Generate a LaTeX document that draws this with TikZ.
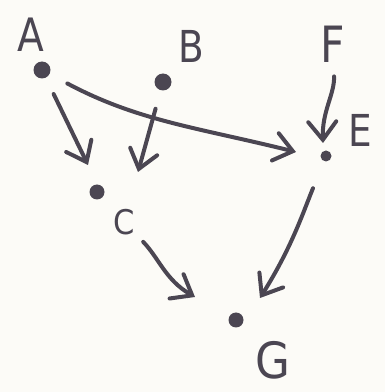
\documentclass[tikz,border=0pt]{standalone}
\usepackage{fontspec}
\setmainfont{DejaVu Sans}
\usetikzlibrary{arrows.meta}
\definecolor{ink}{HTML}{4B4652}
\definecolor{paper}{HTML}{FCFBF7}
\tikzset{
  dot/.style={circle, fill=ink, inner sep=0pt, minimum size=#1},
  lbl/.style={text=ink, inner sep=0pt, font=\fontsize{#1}{#1}\selectfont},
  edge/.style={draw=ink, line width=4pt, line cap=round,
    -{Straight Barb[length=18pt,width=28pt,line cap=round]}}
}
\begin{document}
\begin{tikzpicture}[x=1pt,y=1pt]
\fill[paper] (0,0) rectangle (385,392);
\useasboundingbox (0,0) rectangle (385,392);
% dots
\node[dot=17pt] (A) at (42,322) {};
\node[dot=17pt] (B) at (163,310) {};
\node[dot=11pt] (E) at (326,236) {};
\node[dot=15pt] (C) at (97,200) {};
\node[dot=15pt] (G) at (236,72) {};
% labels
\node[lbl=46, xscale=0.85] (Alab) at (31,357) {A};
\node[lbl=44, xscale=0.85] (Blab) at (191,346) {B};
\node[lbl=50, xscale=0.85] (F) at (333,348) {F};
\node[lbl=44, xscale=0.85] (Elab) at (360,262) {E};
\node[lbl=34, xscale=0.9] (Clab) at (124,170) {C};
\node[lbl=50, xscale=0.9] (Glab) at (273,32) {G};
% arrow tips
\coordinate (tAC) at (88,227);
\coordinate (tBC) at (138,220);
\coordinate (tAE) at (296,240);
\coordinate (tFE) at (323,249);
\coordinate (tCG) at (195,95);
\coordinate (tEG) at (260,94);
% connectors
\draw[edge, shorten <=18pt] (A) -- (tAC);
\draw[edge, shorten <=19pt] (B) -- (tBC);
\draw[edge, shorten <=20pt] (A) to[out=-28,in=166] (tAE);
\draw[edge, shorten <=14pt] (F) to[out=-88,in=92] (tFE);
\draw[edge, shorten <=12pt] (Clab) to[out=-45,in=150] (tCG);
\draw[edge, shorten <=29pt] (E) to[out=-112,in=58] (tEG);
\end{tikzpicture}
\end{document}
